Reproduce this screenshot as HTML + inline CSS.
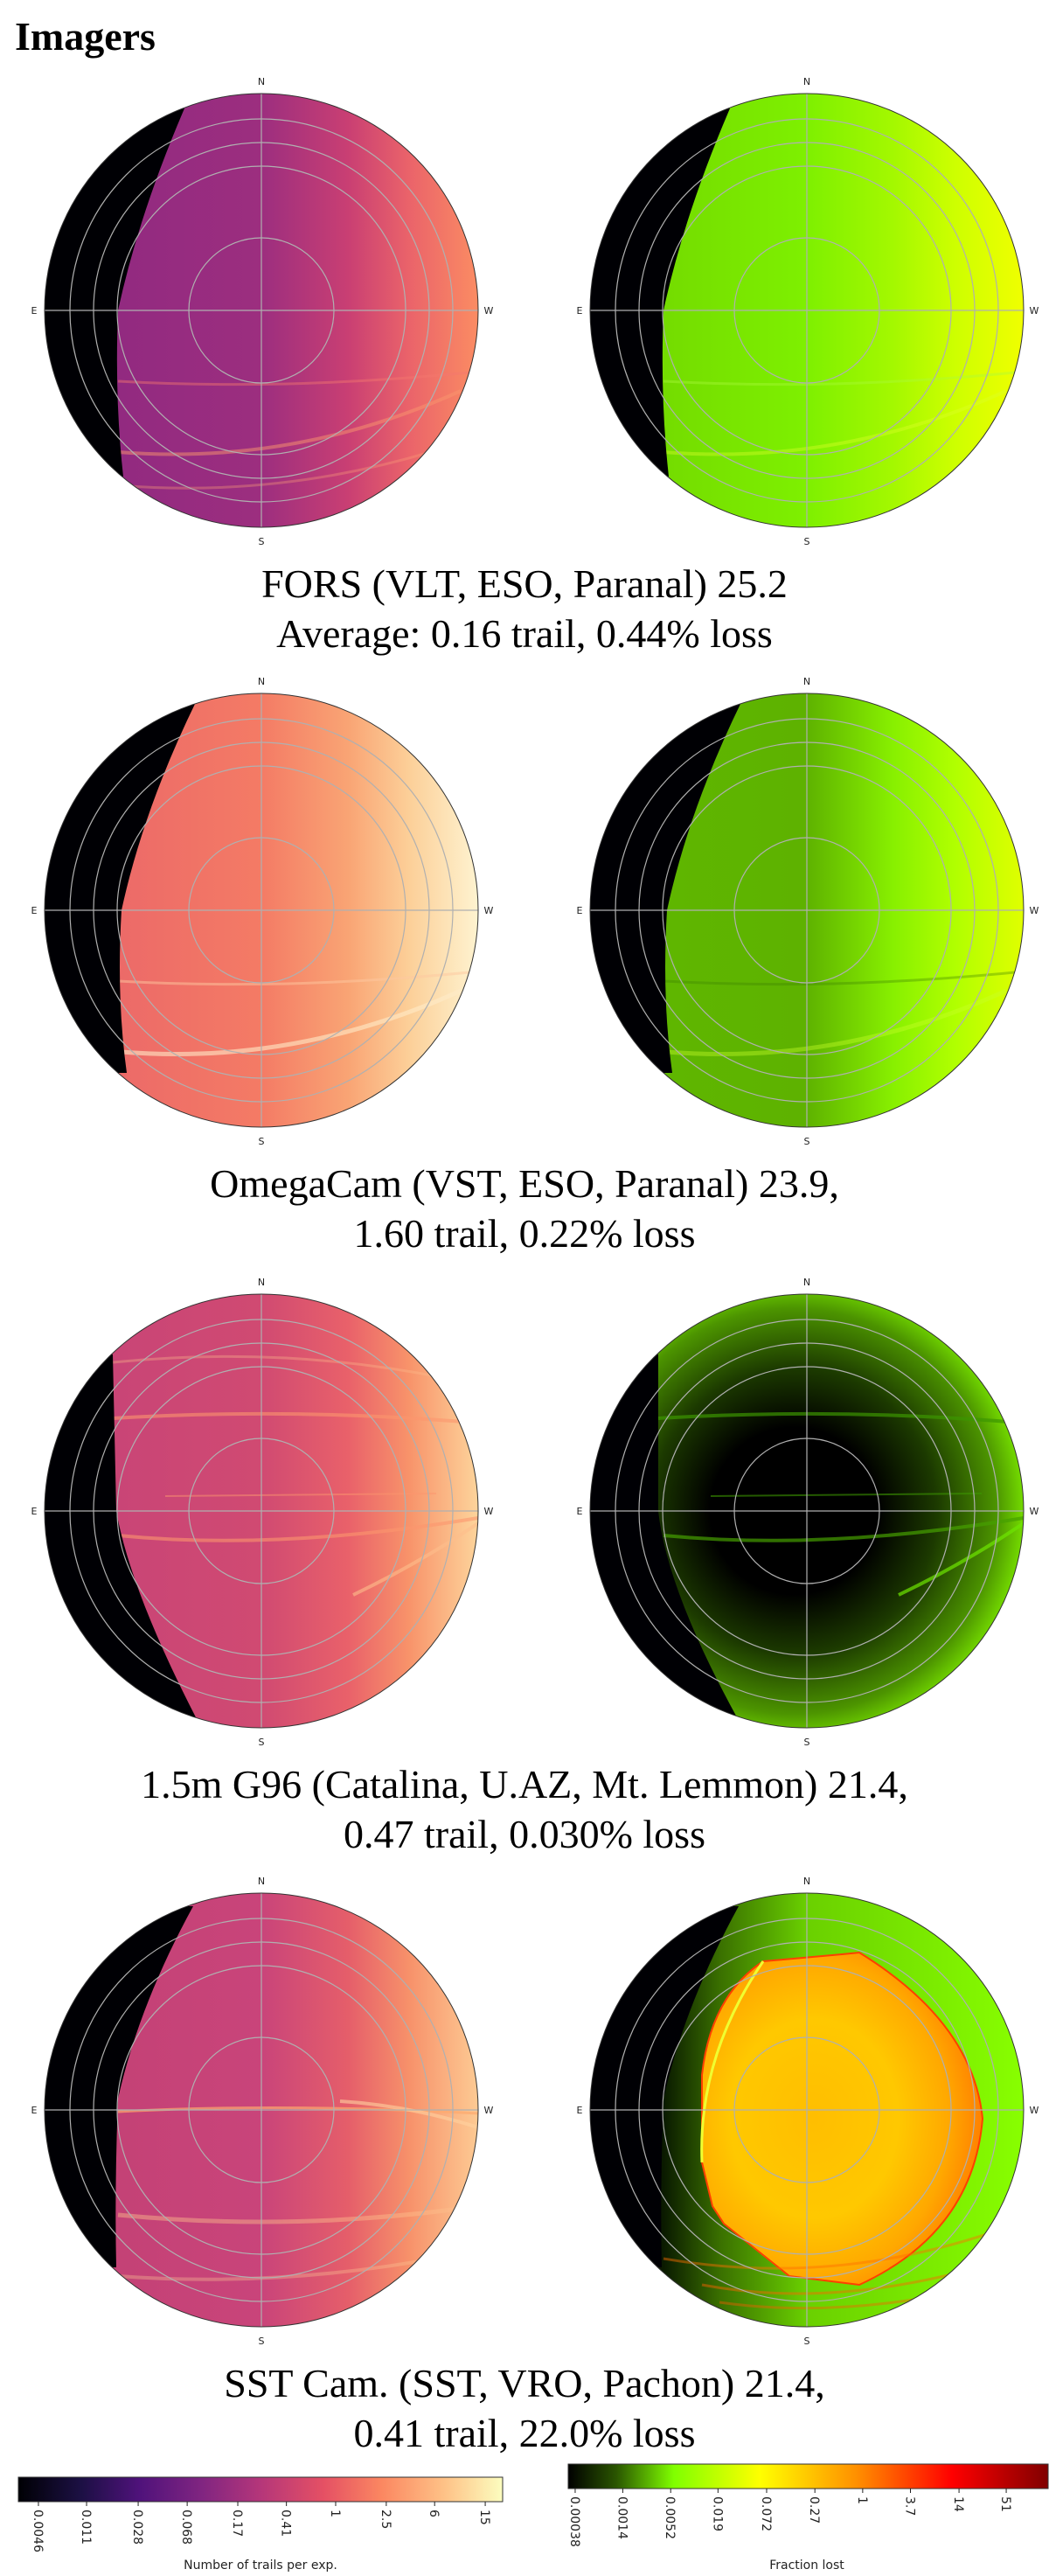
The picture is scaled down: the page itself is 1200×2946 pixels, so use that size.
<!DOCTYPE html>
<html><head><meta charset="utf-8"><title>Imagers</title>
<style>html,body{margin:0;padding:0;background:#fff}svg{display:block}</style></head>
<body>
<svg id="fig" xmlns="http://www.w3.org/2000/svg" width="1200" height="2946" viewBox="0 0 1200 2946">
<defs>
<linearGradient id="p1l" x1="0" x2="1" y1="0" y2="0"><stop offset="0" stop-color="#8a2782"/><stop offset="0.17" stop-color="#922a80"/><stop offset="0.5" stop-color="#9c2e7f"/><stop offset="0.7" stop-color="#c93f73"/><stop offset="0.84" stop-color="#ea636a"/><stop offset="1" stop-color="#fb8c63"/></linearGradient>
<linearGradient id="p2l" x1="0" x2="1" y1="0" y2="0"><stop offset="0" stop-color="#e8606a"/><stop offset="0.17" stop-color="#ec6a68"/><stop offset="0.5" stop-color="#f47b65"/><stop offset="0.7" stop-color="#f9a474"/><stop offset="0.84" stop-color="#fccf98"/><stop offset="1" stop-color="#fef3d0"/></linearGradient>
<linearGradient id="p3l" x1="0" x2="1" y1="0" y2="0"><stop offset="0" stop-color="#c64476"/><stop offset="0.17" stop-color="#c94576"/><stop offset="0.5" stop-color="#d04a72"/><stop offset="0.7" stop-color="#e9616a"/><stop offset="0.84" stop-color="#f8936a"/><stop offset="1" stop-color="#fdd49b"/></linearGradient>
<linearGradient id="p4l" x1="0" x2="1" y1="0" y2="0"><stop offset="0" stop-color="#c24276"/><stop offset="0.17" stop-color="#c44276"/><stop offset="0.5" stop-color="#c9447a"/><stop offset="0.7" stop-color="#e55e6a"/><stop offset="0.84" stop-color="#f7916a"/><stop offset="1" stop-color="#fdca93"/></linearGradient>
<linearGradient id="p1r" x1="0" x2="1" y1="0" y2="0"><stop offset="0" stop-color="#6ed400"/><stop offset="0.17" stop-color="#74dc00"/><stop offset="0.5" stop-color="#7ef000"/><stop offset="0.7" stop-color="#a4f800"/><stop offset="0.84" stop-color="#cdff00"/><stop offset="1" stop-color="#f0ff00"/></linearGradient>
<linearGradient id="p2r" x1="0" x2="1" y1="0" y2="0"><stop offset="0" stop-color="#5cb400"/><stop offset="0.17" stop-color="#5fb600"/><stop offset="0.5" stop-color="#5eb200"/><stop offset="0.7" stop-color="#88f000"/><stop offset="0.84" stop-color="#b0ff00"/><stop offset="1" stop-color="#e0ff00"/></linearGradient>
<radialGradient id="p3r" cx="0.47" cy="0.5" r="0.55"><stop offset="0" stop-color="#000"/><stop offset="0.35" stop-color="#000"/><stop offset="0.6" stop-color="#1c3a00"/><stop offset="0.85" stop-color="#4c9400"/><stop offset="1" stop-color="#80f000"/></radialGradient>
<linearGradient id="p4r" x1="0" x2="1" y1="0" y2="0"><stop offset="0" stop-color="#000"/><stop offset="0.17" stop-color="#0a1a00"/><stop offset="0.3" stop-color="#3a7000"/><stop offset="0.5" stop-color="#6ad000"/><stop offset="1" stop-color="#88ff00"/></linearGradient>
<radialGradient id="disc" cx="0.4" cy="0.5" r="0.6"><stop offset="0" stop-color="#ffbe00"/><stop offset="0.5" stop-color="#ffc800"/><stop offset="0.8" stop-color="#ffa800"/><stop offset="1" stop-color="#ff8000"/></radialGradient>
<linearGradient id="magma" x1="0" x2="1" y1="0" y2="0"><stop offset="0" stop-color="#000004"/><stop offset="0.13" stop-color="#1c1044"/><stop offset="0.25" stop-color="#4f127b"/><stop offset="0.38" stop-color="#812581"/><stop offset="0.5" stop-color="#b5367a"/><stop offset="0.63" stop-color="#e55064"/><stop offset="0.75" stop-color="#fb8761"/><stop offset="0.88" stop-color="#fec287"/><stop offset="1" stop-color="#fcfdbf"/></linearGradient>
<linearGradient id="lossmap" x1="0" x2="1" y1="0" y2="0"><stop offset="0" stop-color="#000000"/><stop offset="0.1" stop-color="#2a5500"/><stop offset="0.22" stop-color="#80ff00"/><stop offset="0.4" stop-color="#ffff00"/><stop offset="0.6" stop-color="#ff9000"/><stop offset="0.8" stop-color="#ff0000"/><stop offset="1" stop-color="#800000"/></linearGradient>
</defs>
<text x="17" y="57" font-family="Liberation Serif, serif" font-weight="bold" font-size="46">Imagers</text>
<g id="panels"></g>
<g id="cbars"></g>
</svg>
<script>
// ---- data ----
const captionLine1 = ["FORS (VLT, ESO, Paranal) 25.2","OmegaCam (VST, ESO, Paranal) 23.9,","1.5m G96 (Catalina, U.AZ, Mt. Lemmon) 21.4,","SST Cam. (SST, VRO, Pachon) 21.4,"];
const captionLine2 = ["Average: 0.16 trail, 0.44% loss","1.60 trail, 0.22% loss","0.47 trail, 0.030% loss","0.41 trail, 22.0% loss"];
const trailTicks = [0.0046,0.011,0.028,0.068,0.17,0.41,1,2.5,6,15];
const trailTickLabels = ["0.0046","0.011","0.028","0.068","0.17","0.41","1","2.5","6","15"];
const lossTicks = [0.00038,0.0014,0.0052,0.019,0.072,0.27,1,3.7,14,51];
const lossTickLabels = ["0.00038","0.0014","0.0052","0.019","0.072","0.27","1","3.7","14","51"];

// ---- layout ----
const R = 248, ringR = [83,165,192,219];
const panelCY = [355,1041,1728,2413];
const leftCX = 299, rightCX = 923;
const crescents = [
 "M-88,-231 Q-140,-110 -164,0 Q-168,100 -158,190 L-300,190 L-300,-231 Z",
 "M-75,-238 Q-135,-115 -160,0 Q-166,100 -154,186 L-300,186 L-300,-238 Z",
 "M-170,-179 L-166,0 Q-150,90 -75,236 L-300,236 L-300,-179 Z",
 "M-78,-233 Q-140,-120 -164,-13 Q-168,90 -166,180 L-300,180 L-300,-233 Z"
];
const crescentsR = [crescents[0],crescents[1],"M-170,-179 L-170,0 Q-160,90 -80,236 L-300,236 L-300,-179 Z",crescents[3]];
const leftBands = [
 [["M-164,81 Q30,92 248,70","rgba(245,120,110,0.45)",3],["M-164,162 Q40,178 228,92","rgba(250,150,110,0.5)",4],["M-164,200 Q20,215 200,160","rgba(252,160,120,0.35)",3]],
 [["M-164,81 Q30,92 248,70","rgba(253,200,160,0.5)",3],["M-160,162 Q40,178 228,92","rgba(255,235,200,0.6)",5]],
 [["M-170,-106 Q30,-118 230,-102","rgba(252,150,110,0.6)",4],["M-110,-17 L200,-20","rgba(252,150,110,0.5)",2],["M-164,28 Q20,46 248,8","rgba(252,150,110,0.6)",4],["M105,96 Q180,60 248,14","rgba(253,190,140,0.6)",4],["M-170,-170 Q30,-190 220,-150","rgba(253,190,140,0.35)",3]],
 [["M-164,2 Q20,-8 248,4","rgba(253,170,110,0.7)",3],["M90,-10 Q170,-5 248,20","rgba(255,210,160,0.6)",4],["M-164,120 Q40,140 248,110","rgba(253,190,140,0.45)",5],["M-164,190 Q40,205 248,160","rgba(253,200,150,0.35)",4]]
];
const rightBands = [
 [["M-164,81 Q30,92 248,70","rgba(170,250,60,0.4)",3],["M-164,162 Q40,178 228,92","rgba(220,255,40,0.4)",4]],
 [["M-164,81 Q30,92 248,70","rgba(60,130,0,0.35)",3],["M-160,162 Q40,178 228,92","rgba(200,255,40,0.4)",5]],
 [["M-170,-106 Q30,-118 230,-102","rgba(60,150,0,0.7)",4],["M-110,-17 L200,-20","rgba(60,150,0,0.6)",2],["M-164,28 Q20,46 248,8","rgba(70,160,0,0.7)",4],["M105,96 Q180,60 248,14","rgba(110,230,0,0.7)",4]],
 [["M-164,170 Q40,205 240,130","rgba(255,110,0,0.45)",3],["M-120,200 Q40,230 230,170","rgba(255,100,0,0.45)",3],["M-100,220 Q40,240 210,200","rgba(255,90,0,0.4)",3]]
];
const NS = "http://www.w3.org/2000/svg";
const panelsG = document.getElementById('panels');

function ring(cx,cy,fill,cres,bands,extra,side,i){
  let s = `<g>`;
  s += `<clipPath id="clip-${side}-${i}"><circle cx="${cx}" cy="${cy}" r="${R}"/></clipPath>`;
  s += `<g clip-path="url(#clip-${side}-${i})">`;
  s += `<rect x="${cx-R}" y="${cy-R}" width="${2*R}" height="${2*R}" fill="url(#${fill})"/>`;
  s += extra;
  bands.forEach(b=>{ s += `<path transform="translate(${cx},${cy})" d="${b[0]}" fill="none" stroke="${b[1]}" stroke-width="${b[2]}"/>`; });
  s += `<path transform="translate(${cx},${cy})" d="${cres}" fill="#000004"/>`;
  s += `</g>`;
  ringR.forEach(r=>{ s += `<circle cx="${cx}" cy="${cy}" r="${r}" fill="none" stroke="#b0b0b0" stroke-width="1.2"/>`; });
  s += `<line x1="${cx-R}" y1="${cy}" x2="${cx+R}" y2="${cy}" stroke="#b0b0b0" stroke-width="1.2"/>`;
  s += `<line x1="${cx}" y1="${cy-R}" x2="${cx}" y2="${cy+R}" stroke="#b0b0b0" stroke-width="1.2"/>`;
  s += `<circle cx="${cx}" cy="${cy}" r="${R}" fill="none" stroke="#333" stroke-width="1"/>`;
  const f = `font-family="DejaVu Sans, sans-serif" font-size="11" fill="#222" text-anchor="middle"`;
  s += `<text x="${cx}" y="${cy-R-10}" ${f}>N</text>`;
  s += `<text x="${cx}" y="${cy+R+20}" ${f}>S</text>`;
  s += `<text x="${cx-R-12}" y="${cy+4}" ${f}>E</text>`;
  s += `<text x="${cx+R+12}" y="${cy+4}" ${f}>W</text>`;
  return s + `</g>`;
}

let html = "";
panelCY.forEach((cy,i)=>{
  html += `<g>`;
  html += ring(leftCX,cy,`p${i+1}l`,crescents[i],leftBands[i],"","trails",i);
  let extra = "";
  if(i===3){
    extra = `<path transform="translate(${rightCX},${cy})" d="M-120,-40 Q-110,-130 -50,-170 L40,-178 L60,-180 Q190,-100 201,10 Q190,140 60,200 L-20,190 L-95,130 L-108,110 L-120,60 Z" fill="url(#disc)" stroke="#ff4000" stroke-width="2"/>`;
    extra += `<path transform="translate(${rightCX},${cy})" d="M-120,60 Q-125,-60 -50,-170" fill="none" stroke="#f0ff30" stroke-width="3"/>`;
  }
  html += ring(rightCX,cy,`p${i+1}r`,crescentsR[i],rightBands[i],extra,"loss",i);
  html += `<text x="600" y="${cy+328}" text-anchor="middle" font-family="Liberation Serif, serif" font-size="46">${captionLine1[i]}</text>`;
  html += `<text x="600" y="${cy+385}" text-anchor="middle" font-family="Liberation Serif, serif" font-size="46">${captionLine2[i]}</text>`;
  html += `</g>`;
});
panelsG.innerHTML = html;

// ---- colorbars ----
function logScale(domLo,domHi,x0,x1){ return v => x0 + (Math.log10(v)-domLo)/(domHi-domLo)*(x1-x0); }
const cb = document.getElementById('cbars');
function colorbar(name,x0,x1,y0,h,grad,ticks,labels,domLo,domHi,title,titleX){
  const g = document.createElementNS(NS,'g');
  
  
  const rect = document.createElementNS(NS,'rect');
  
  
  rect.setAttribute('x',x0); rect.setAttribute('y',y0); rect.setAttribute('width',x1-x0); rect.setAttribute('height',h);
  rect.setAttribute('fill',`url(#${grad})`); rect.setAttribute('stroke','#333'); rect.setAttribute('stroke-width','1');
  g.appendChild(rect);
  const sx = logScale(domLo,domHi,x0,x1);
  ticks.forEach((v,k)=>{
    const x = sx(v);
    const t = document.createElementNS(NS,'line');
    
    
    t.setAttribute('x1',x); t.setAttribute('x2',x); t.setAttribute('y1',y0+h); t.setAttribute('y2',y0+h+5);
    t.setAttribute('stroke','#222'); t.setAttribute('stroke-width','1');
    g.appendChild(t);
    const tx = document.createElementNS(NS,'text');
    
    
    tx.setAttribute('transform',`translate(${x-5},${y0+h+9}) rotate(90)`);
    tx.setAttribute('font-family','DejaVu Sans, sans-serif'); tx.setAttribute('font-size','14'); tx.setAttribute('fill','#222');
    tx.textContent = labels[k];
    g.appendChild(tx);
  });
  const tt = document.createElementNS(NS,'text');
  
  
  tt.setAttribute('x',titleX); tt.setAttribute('y',2938); tt.setAttribute('text-anchor','middle');
  tt.setAttribute('font-family','DejaVu Sans, sans-serif'); tt.setAttribute('font-size','14'); tt.setAttribute('fill','#222');
  tt.textContent = title;
  g.appendChild(tt);
  cb.appendChild(g);
}
colorbar('trails-colorbar',21,575,2833,28,'magma',trailTicks,trailTickLabels,-2.495,1.313,'Number of trails per exp.',298);
colorbar('loss-colorbar',650,1199,2818,28,'lossmap',lossTicks,lossTickLabels,-3.503,2.206,'Fraction lost',923);
</script>
</body></html>
